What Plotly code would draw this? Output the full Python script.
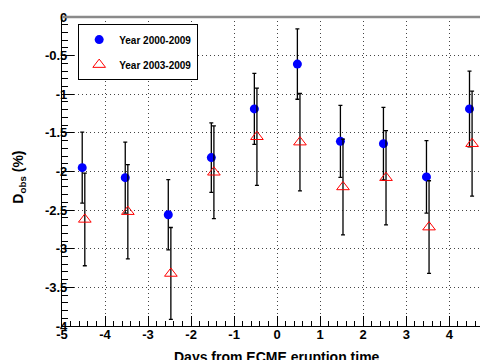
import plotly.graph_objects as go

days = [-4.5, -3.5, -2.5, -1.5, -0.5, 0.5, 1.5, 2.5, 3.5, 4.5]
d_2000_2009 = [-1.95, -2.08, -2.56, -1.82, -1.19, -0.61, -1.61, -1.64, -2.07, -1.19]
err_2000_2009 = [0.46, 0.46, 0.455, 0.45, 0.46, 0.455, 0.466, 0.47, 0.47, 0.49]
d_2003_2009 = [-2.62, -2.52, -3.32, -2.01, -1.55, -1.62, -2.20, -2.08, -2.72, -1.64]
err_2003_2009 = [0.60, 0.61, 0.595, 0.60, 0.63, 0.63, 0.62, 0.61, 0.60, 0.68]

x_tickvals = [-5, -4, -3, -2, -1, 0, 1, 2, 3, 4]
x_ticktext = ["-5", "-4", "-3", "-2", "-1", "0", "1", "2", "3", "4"]
y_tickvals = [0, -0.5, -1, -1.5, -2, -2.5, -3, -3.5, -4]
y_ticktext = ["0", "-0.5", "-1", "-1.5", "-2", "-2.5", "-3", "-3.5", "-4"]

FONT = "Liberation Sans, Arial, Helvetica, sans-serif"
offset = 0.03

fig = go.Figure()
fig.add_trace(go.Scatter(
    x=[d - offset for d in days], y=d_2000_2009, mode="markers",
    name="Year 2000-2009", legendgroup="a",
    marker=dict(symbol="circle", size=9, color="#0000ff"),
    error_y=dict(type="data", array=err_2000_2009, symmetric=True,
                 color="black", thickness=1.3, width=2),
))
fig.add_trace(go.Scatter(
    x=[d + offset for d in days], y=d_2003_2009, mode="markers",
    name="Year 2003-2009", legendgroup="b",
    marker=dict(symbol="triangle-up-open", size=11, color="#ff0000",
                line=dict(width=1, color="#ff0000")),
    error_y=dict(type="data", array=err_2003_2009, symmetric=True,
                 color="black", thickness=1.3, width=2),
))

axis_common = dict(
    showline=True, linecolor="black", linewidth=1.2,
    ticks="inside", tickcolor="black", tickwidth=1,
    showgrid=True, gridcolor="#444", griddash="1px,3px", gridwidth=1,
    zeroline=False, tickmode="array",
    tickfont=dict(family=FONT, size=13, color="black", weight="bold"),
)

fig.update_xaxes(
    **axis_common, range=[-5, 4.90], tickvals=x_tickvals, ticktext=x_ticktext,
    ticklen=10, ticklabelstandoff=-4,
    minor=dict(tickmode="linear", tick0=0, dtick=0.2, ticks="inside",
               ticklen=5, tickcolor="black", showgrid=False),
)
fig.update_yaxes(
    **axis_common, range=[-4, 0], tickvals=y_tickvals, ticktext=y_ticktext,
    ticklen=12, ticklabelstandoff=-9,
    minor=dict(tickmode="linear", tick0=0, dtick=0.1, ticks="inside",
               ticklen=6, tickcolor="black", showgrid=False),
)

fig.add_shape(type="line", xref="paper", yref="paper", x0=0, x1=1, y0=1, y1=1,
              line=dict(color="#8a8a8a", width=2.5))

fig.add_annotation(text="<b>Days from ECME eruption time</b>", xref="paper", yref="paper",
                   x=0.505, y=0, yanchor="top", yshift=-21, showarrow=False,
                   font=dict(family=FONT, size=14, color="black"))
fig.add_annotation(text="<b>D<sub>obs</sub> (%)</b>", xref="paper", yref="paper",
                   x=0, y=0.48, xanchor="center", yanchor="middle", xshift=-43,
                   textangle=-90, showarrow=False,
                   font=dict(family=FONT, size=14, color="black"))

# page body has an 8px margin: figure is 480x352 so it fills the 488x360 window
fig.update_layout(
    width=480, height=352,
    margin=dict(l=54, r=0, t=9, b=34, autoexpand=False),
    paper_bgcolor="white", plot_bgcolor="white",
    showlegend=True,
    legend=dict(x=0.038, y=0.977, xanchor="left", yanchor="top",
                bgcolor="white", bordercolor="black", borderwidth=1,
                tracegroupgap=6, entrywidth=106, entrywidthmode="pixels",
                font=dict(family=FONT, size=10, color="black", weight="bold")),
)

fig.write_html("out.html")
